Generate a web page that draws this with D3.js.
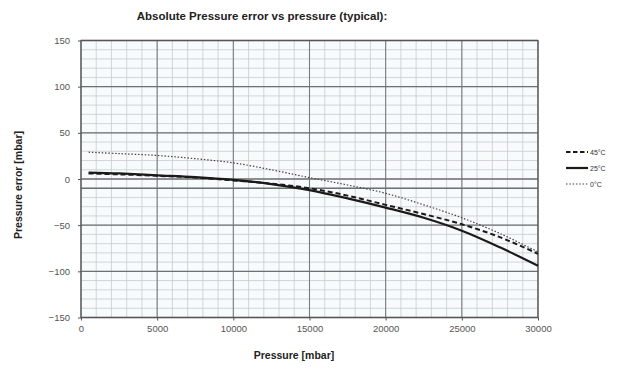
<!DOCTYPE html>
<html>
<head>
<meta charset="utf-8">
<script src="https://cdn.jsdelivr.net/npm/d3@7"></script>
<style>
  html, body { margin: 0; padding: 0; background: #fff; }
  svg { display: block; font-family: "Liberation Sans", Arial, sans-serif; }
</style>
</head>
<body>
<svg id="chart" width="624" height="370"></svg>
<script>
// Pressure sampling points [mbar]
const pressure = [500, 2500, 5000, 7500, 10000, 12500, 15000, 17500, 20000, 22500, 25000, 27500, 30000];
// Absolute pressure error [mbar] per temperature
const err45 = [6, 5, 3.5, 1.5, -1.5, -5, -10, -18, -28, -38, -49, -63, -81];
const err25 = [7, 6, 4, 2, -1, -5.5, -12, -21, -31, -42, -56, -74, -94];
const err0  = [29, 27.5, 25.5, 22, 17.5, 10, 1.5, -6.5, -15.5, -28, -42, -59, -79];
const seriesNames = ["45°C", "25°C", "0°C"];
const xTicks = [0, 5000, 10000, 15000, 20000, 25000, 30000];
const yTicks = [150, 100, 50, 0, -50, -100, -150];
const limitLine = -10;

const svg = d3.select("#chart");
const plotLeft = 81, plotRight = 538, plotTop = 40.5, plotBottom = 317.5;

const x = d3.scaleLinear().domain([0, 30000]).range([plotLeft, plotRight]);
const y = d3.scaleLinear().domain([-150, 150]).range([plotBottom, plotTop]);

// plot background
svg.append("rect")
  .attr("x", plotLeft).attr("y", plotTop)
  .attr("width", plotRight - plotLeft).attr("height", plotBottom - plotTop)
  .attr("fill", "#f8fbfc");

// minor grid
const g = svg.append("g");
g.selectAll("line.vmin").data(d3.range(1000, 30000, 1000))
  .join("line")
  .attr("x1", d => x(d)).attr("x2", d => x(d))
  .attr("y1", plotTop).attr("y2", plotBottom)
  .attr("stroke", "#c8cccf").attr("stroke-width", 0.8);
g.selectAll("line.hmin").data(d3.range(-140, 150, 10))
  .join("line")
  .attr("y1", d => y(d)).attr("y2", d => y(d))
  .attr("x1", plotLeft).attr("x2", plotRight)
  .attr("stroke", "#c8cccf").attr("stroke-width", 0.8);

// major grid
g.selectAll("line.vmaj").data(xTicks)
  .join("line")
  .attr("x1", d => x(d)).attr("x2", d => x(d))
  .attr("y1", plotTop).attr("y2", plotBottom)
  .attr("stroke", "#7a7d80").attr("stroke-width", 1.1);
g.selectAll("line.hmaj").data(yTicks.concat([limitLine]))
  .join("line")
  .attr("y1", d => y(d)).attr("y2", d => y(d))
  .attr("x1", plotLeft).attr("x2", plotRight)
  .attr("stroke", "#6e7174").attr("stroke-width", 1.3);

// frame
svg.append("rect")
  .attr("x", plotLeft).attr("y", plotTop)
  .attr("width", plotRight - plotLeft).attr("height", plotBottom - plotTop)
  .attr("fill", "none").attr("stroke", "#555").attr("stroke-width", 1.2);

// axes
const xAxis = d3.axisBottom(x).tickValues(xTicks).tickSize(3).tickPadding(5).tickFormat(d3.format("d"));
const yAxis = d3.axisLeft(y).tickValues(yTicks).tickSize(3).tickPadding(8).tickFormat(d3.format("d"));
const ax = svg.append("g").attr("transform", `translate(0,${plotBottom})`).call(xAxis);
const ay = svg.append("g").attr("transform", `translate(${plotLeft},0)`).call(yAxis);
[ax, ay].forEach(a => {
  a.select(".domain").remove();
  a.selectAll("line").attr("stroke", "#555");
  a.selectAll("text").attr("font-size", 9.5).attr("fill", "#555")
    .attr("font-family", "'Liberation Sans', Arial, sans-serif");
});

// curves
const series = [
  { name: seriesNames[0], values: err45, dash: "5,3", width: 2, color: "#1a1a1a" },
  { name: seriesNames[1], values: err25, dash: null, width: 2.2, color: "#1a1a1a" },
  { name: seriesNames[2], values: err0, dash: "1.5,1.8", width: 1.2, color: "#444" }
];
const line = d3.line()
  .x((d, i) => x(pressure[i]))
  .y(d => y(d))
  .curve(d3.curveCatmullRom.alpha(0.5));
svg.append("g").selectAll("path").data(series)
  .join("path")
  .attr("d", s => line(s.values))
  .attr("fill", "none")
  .attr("stroke", s => s.color)
  .attr("stroke-width", s => s.width)
  .attr("stroke-dasharray", s => s.dash);

// legend
const lg = svg.append("g");
series.forEach((s, i) => {
  const ly = 152 + i * 16;
  lg.append("line")
    .attr("x1", 566).attr("x2", 588).attr("y1", ly).attr("y2", ly)
    .attr("stroke", s.color).attr("stroke-width", s.width)
    .attr("stroke-dasharray", s.dash ? (i === 0 ? "4.5,2.5" : s.dash) : null);
  lg.append("text")
    .attr("x", 590).attr("y", ly + 2.5)
    .attr("font-size", 7).attr("fill", "#333")
    .text(s.name);
});

// titles
svg.append("text")
  .attr("x", 262).attr("y", 20)
  .attr("text-anchor", "middle")
  .attr("font-size", 11.5).attr("font-weight", "bold").attr("fill", "#222")
  .text("Absolute Pressure error vs pressure (typical):");
svg.append("text")
  .attr("x", 294).attr("y", 359)
  .attr("text-anchor", "middle")
  .attr("font-size", 10.5).attr("font-weight", "bold").attr("fill", "#222")
  .text("Pressure  [mbar]");
svg.append("text")
  .attr("transform", "translate(22,185) rotate(-90)")
  .attr("text-anchor", "middle")
  .attr("font-size", 10.5).attr("font-weight", "bold").attr("fill", "#222")
  .text("Pressure  error  [mbar]");
</script>
</body>
</html>
